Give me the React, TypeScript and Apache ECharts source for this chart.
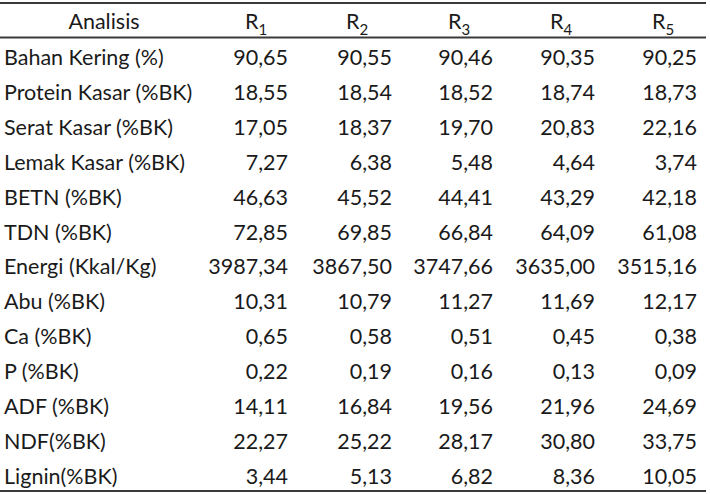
import React, { useEffect, useRef } from "react";
import * as echarts from "echarts";

const analyses = [
  "Bahan Kering (%)",
  "Protein Kasar (%BK)",
  "Serat Kasar (%BK)",
  "Lemak Kasar (%BK)",
  "BETN (%BK)",
  "TDN (%BK)",
  "Energi (Kkal/Kg)",
  "Abu (%BK)",
  "Ca (%BK)",
  "P (%BK)",
  "ADF (%BK)",
  "NDF(%BK)",
  "Lignin(%BK)",
];
const headerLabel = "Analisis";
const treatments = ["1", "2", "3", "4", "5"];
const r1 = [90.65, 18.55, 17.05, 7.27, 46.63, 72.85, 3987.34, 10.31, 0.65, 0.22, 14.11, 22.27, 3.44];
const r2 = [90.55, 18.54, 18.37, 6.38, 45.52, 69.85, 3867.5, 10.79, 0.58, 0.19, 16.84, 25.22, 5.13];
const r3 = [90.46, 18.52, 19.7, 5.48, 44.41, 66.84, 3747.66, 11.27, 0.51, 0.16, 19.56, 28.17, 6.82];
const r4 = [90.35, 18.74, 20.83, 4.64, 43.29, 64.09, 3635.0, 11.69, 0.45, 0.13, 21.96, 30.8, 8.36];
const r5 = [90.25, 18.73, 22.16, 3.74, 42.18, 61.08, 3515.16, 12.17, 0.38, 0.09, 24.69, 33.75, 10.05];

const W = 710;
const H = 494;
const FONT = "Lato";
const FS = 21.5;
const TXT = "#1a1a1a";
const LINE = "#3a3a3a";

const fmt = (v: number) => v.toFixed(2).replace(".", ",");

export default function App() {
  const ref = useRef<HTMLDivElement>(null);
  useEffect(() => {
    if (!ref.current) return;
    const chart = echarts.init(ref.current, undefined, { renderer: "svg" });
    const cols = [r1, r2, r3, r4, r5];
    const valueRight = [288, 392, 493, 595, 697];
    const headR = [245, 346, 448, 550, 652];
    const rowY0 = 57;
    const rowStep = 34.9;
    const headerY = 21;
    const els: any[] = [];
    const line = (y: number, w: number) => ({
      type: "line",
      shape: { x1: 0, y1: y, x2: 706, y2: y },
      style: { stroke: LINE, lineWidth: w },
    });
    els.push(line(3, 2));
    els.push(line(37.5, 2));
    els.push(line(491, 2.2));
    els.push({
      type: "text",
      x: 104,
      y: headerY,
      style: { text: headerLabel, font: `${FS}px ${FONT}`, fill: TXT, align: "center", verticalAlign: "middle" },
    });
    treatments.forEach((t, i) => {
      els.push({
        type: "text",
        x: headR[i],
        y: headerY,
        style: { text: "R", font: `${FS}px ${FONT}`, fill: TXT, align: "left", verticalAlign: "middle" },
      });
      els.push({
        type: "text",
        x: headR[i] + 13.5,
        y: headerY + 7.5,
        style: { text: t, font: `15px ${FONT}`, fill: TXT, align: "left", verticalAlign: "middle" },
      });
    });
    analyses.forEach((a, r) => {
      const y = rowY0 + r * rowStep;
      els.push({
        type: "text",
        x: 4,
        y,
        style: { text: a, font: `${FS}px ${FONT}`, fill: TXT, align: "left", verticalAlign: "middle" },
      });
      cols.forEach((c, i) => {
        els.push({
          type: "text",
          x: valueRight[i],
          y,
          style: { text: fmt(c[r]), font: `${FS}px ${FONT}`, fill: TXT, align: "right", verticalAlign: "middle" },
        });
      });
    });
    chart.setOption({
      animation: false,
      backgroundColor: "#ffffff",
      graphic: { elements: els },
    });
    return () => chart.dispose();
  }, []);
  return <div ref={ref} style={{ position: "fixed", left: 0, top: 0, width: W, height: H }} />;
}
